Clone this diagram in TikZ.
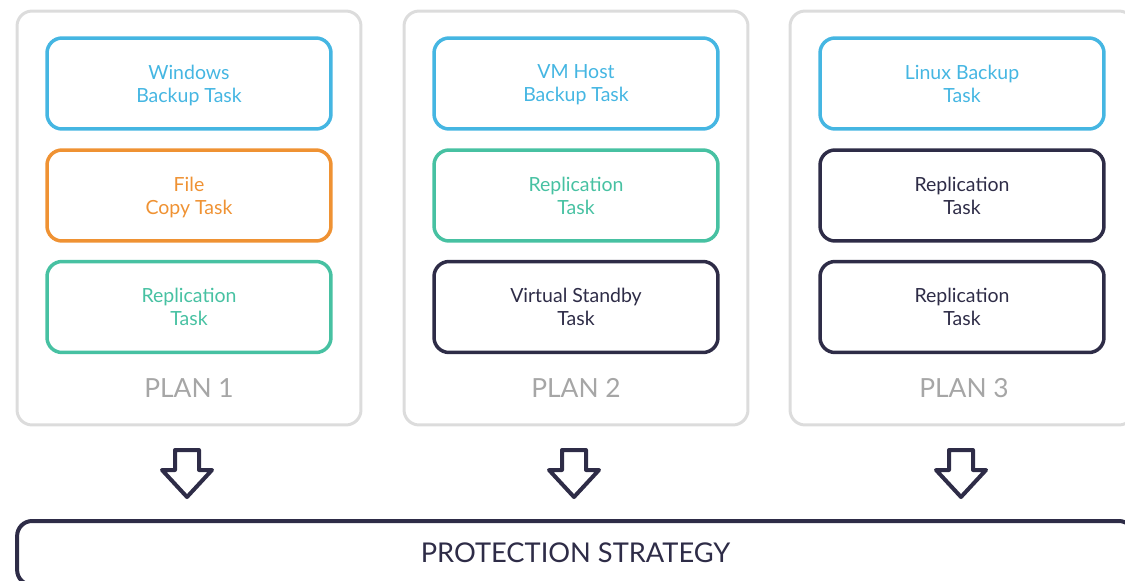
\documentclass[tikz,border=0pt]{standalone}
\usepackage{fontspec}
\setmainfont{Lato}
\usetikzlibrary{positioning}
\definecolor{taskblue}{HTML}{45B6E2}
\definecolor{taskorange}{HTML}{EF9233}
\definecolor{taskteal}{HTML}{47C1A2}
\definecolor{taskdark}{HTML}{2E2C47}
\definecolor{planedge}{HTML}{DCDCDC}
\definecolor{plantext}{HTML}{A6A6A6}
\tikzset{
    plan/.style={draw=planedge, line width=0.06cm, rounded corners=0.3cm,
        minimum width=6.88cm, minimum height=8.28cm},
    task/.style={draw=#1, text=#1, line width=0.07cm, rounded corners=0.3cm,
        minimum width=5.68cm, minimum height=1.82cm, align=center,
        text depth=-2pt, font=\fontsize{11.1}{13.1}\selectfont},
    planlabel/.style={text=plantext, font=\fontsize{15}{17}\selectfont},
    bigarrow/.style={draw=taskdark, line width=0.08cm, line join=round},
    strategy/.style={draw=taskdark, line width=0.08cm, rounded corners=0.3cm,
        minimum width=22.34cm, minimum height=1.28cm, text=taskdark,
        font=\fontsize{15.5}{17}\selectfont}
}
\begin{document}
\begin{tikzpicture}[x=0.02cm, y=-0.02cm]
    \useasboundingbox (0,0) rectangle (1125,581);
    \clip (0,0) rectangle (1125,581);
    % plans
    \node[plan] (plan1) at (189,218) {};
    \node[plan] (plan2) at (576,218) {};
    \node[plan] (plan3) at (962,218) {};
    % plan 1
    \node[task=taskblue] (win) at (189,83.5) {Windows\\Backup Task};
    \node[task=taskorange] (copy) at (189,195.5) {File\\Copy Task};
    \node[task=taskteal] (rep1) at (189,307) {Replication\\Task};
    \node[planlabel] (lab1) at (189,388) {PLAN 1};
    % plan 2
    \node[task=taskblue] (vmhost) at (576,83.5) {VM Host\\Backup Task};
    \node[task=taskteal] (rep2) at (576,195.5) {Replication\\Task};
    \node[task=taskdark] (standby) at (576,307) {Virtual Standby\\Task};
    \node[planlabel] (lab2) at (576,388) {PLAN 2};
    % plan 3
    \node[task=taskblue] (linux) at (962,83.5) {Linux Backup\\Task};
    \node[task=taskdark] (rep3) at (962,195.5) {Replication\\Task};
    \node[task=taskdark] (rep4) at (962,307) {Replication\\Task};
    \node[planlabel] (lab3) at (964,388) {PLAN 3};
    % arrows
    \coordinate (a1) at (187,450);
    \coordinate (a2) at (574,450);
    \coordinate (a3) at (961,450);
    \draw[bigarrow] (a1) ++(-12,0) -- ++(24,0) -- ++(0,20) -- ++(13,0) -- ++(-25,27) -- ++(-25,-27) -- ++(13,0) -- cycle;
    \draw[bigarrow] (a2) ++(-12,0) -- ++(24,0) -- ++(0,20) -- ++(13,0) -- ++(-25,27) -- ++(-25,-27) -- ++(13,0) -- cycle;
    \draw[bigarrow] (a3) ++(-12,0) -- ++(24,0) -- ++(0,20) -- ++(13,0) -- ++(-25,27) -- ++(-25,-27) -- ++(13,0) -- cycle;
    % strategy
    \node[strategy] (strat) at (575.5,553) {PROTECTION STRATEGY};
\end{tikzpicture}
\end{document}
